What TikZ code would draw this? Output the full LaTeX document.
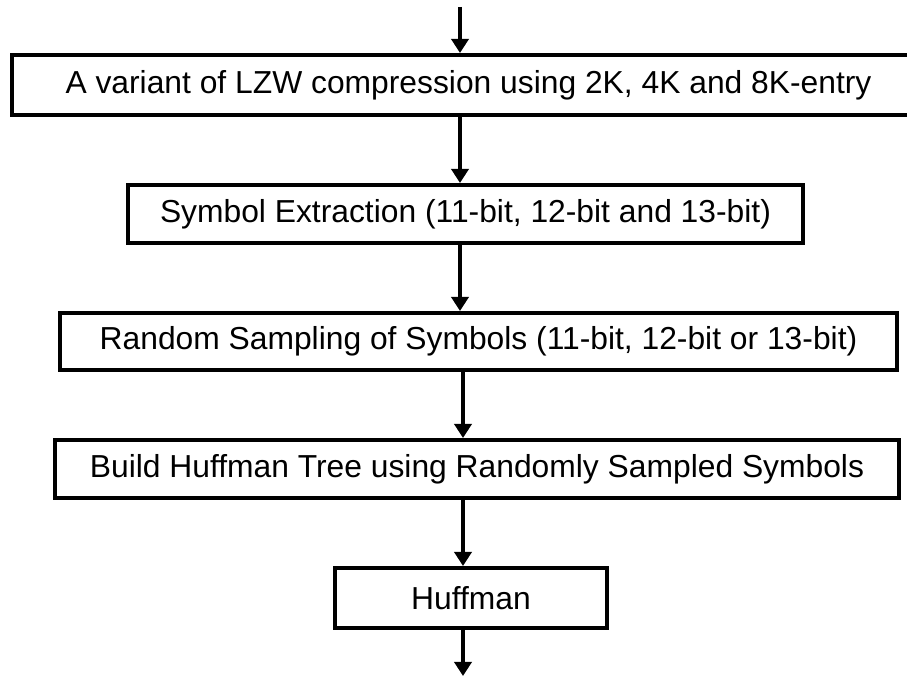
\documentclass[tikz,border=0pt]{standalone}
\usepackage{fontspec}
\setmainfont{Liberation Sans}
\usetikzlibrary{arrows.meta}

\begin{document}
\begin{tikzpicture}[x=0.5pt, y=0.5pt,
  every node/.style={font=\fontsize{15.9}{18}\selectfont},
  stage/.style={draw=black, line width=2pt, fill=white, inner sep=0pt},
  flow/.style={line width=2pt, -{Triangle[length=7pt,width=8.5pt]}}]
\useasboundingbox (0,0) rectangle (907,676);

% Processing stages, top to bottom
\node[stage, minimum width=456.5pt, minimum height=30pt] (lzw) at (468.5,591)
  {A variant of LZW compression using 2K, 4K and 8K-entry};
\node[stage, minimum width=337.5pt, minimum height=29pt] (extract) at (465.5,462)
  {Symbol Extraction (11-bit, 12-bit and 13-bit)};
\node[stage, minimum width=418.5pt, minimum height=28.5pt] (sample) at (478.5,334.5)
  {Random Sampling of Symbols (11-bit, 12-bit or 13-bit)};
\node[stage, minimum width=422pt, minimum height=29pt] (tree) at (477,207)
  {Build Huffman Tree using Randomly Sampled Symbols};
\node[stage, minimum width=136pt, minimum height=30pt] (huff) at (471,78)
  {Huffman};

% Input and output ends
\coordinate (in) at (460,669);
\coordinate (out) at (463,0);

% Arrows between the stages
\draw[flow] (in) -- (lzw.north -| in);
\draw[flow] (lzw.south -| in) -- (extract.north -| in);
\draw[flow] (extract.south -| in) -- (sample.north -| in);
\draw[flow] (sample.south -| out) -- (tree.north -| out);
\draw[flow] (tree.south -| out) -- (huff.north -| out);
\draw[flow] (huff.south -| out) -- (out);
\end{tikzpicture}
\end{document}
